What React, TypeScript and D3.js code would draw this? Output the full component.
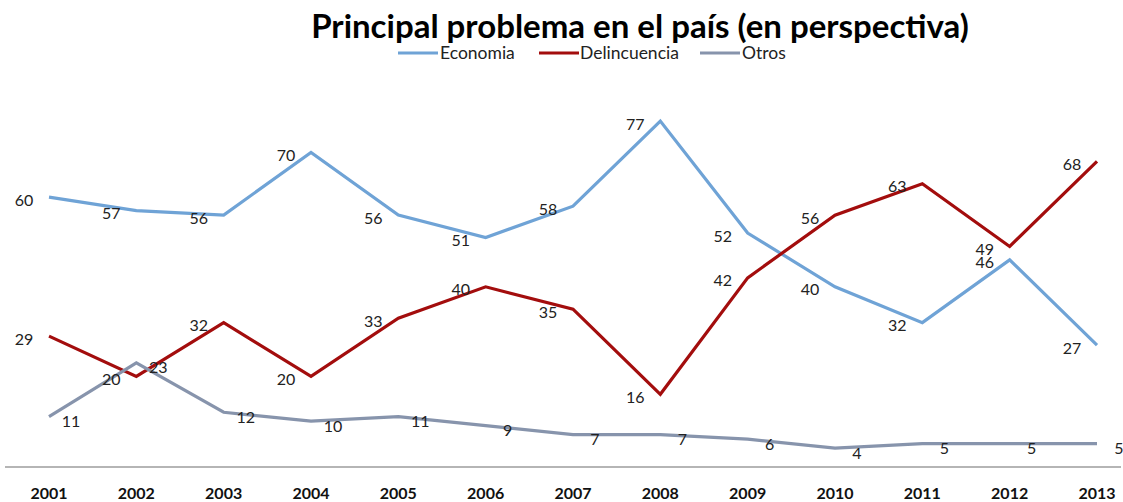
import React from 'react';
import * as d3 from 'd3';

const years = ['2001', '2002', '2003', '2004', '2005', '2006', '2007', '2008', '2009', '2010', '2011', '2012', '2013'];
const economia = [60, 57, 56, 70, 56, 51, 58, 77, 52, 40, 32, 46, 27];
const delincuencia = [29, 20, 32, 20, 33, 40, 35, 16, 42, 56, 63, 49, 68];
const otros = [11, 23, 12, 10, 11, 9, 7, 7, 6, 4, 5, 5, 5];

const seriesNames = ['Economia', 'Delincuencia', 'Otros'];
const seriesColors = ['#6FA3D6', '#A30D0D', '#8794AC'];

const W = 1123;
const H = 502;
const FONT = 'Lato, "Open Sans", sans-serif';

export default function App() {
  const x = d3.scalePoint<string>().domain(years).range([49, 1097]);
  const y = d3.scaleLinear().domain([0, 90]).range([466, 62.8]);

  const line = d3.line<number>()
    .x((_, i) => x(years[i]) as number)
    .y(d => y(d));

  const series = [economia, delincuencia, otros];

  // label placement: first two series left of point, Otros to the right
  const labelDx = [-25, -25, 22];
  const labelDy = [2, 2, 4];

  const legendLines = [[398, 438], [539, 579], [700, 740]];
  const legendText = [440, 580, 742];

  return (
    <svg width={W} height={H} style={{ position: 'absolute', left: 0, top: 0, background: '#fff' }}
      fontFamily={FONT}>
      <text x={640} y={38} textAnchor="middle" fontSize={33} fontWeight={700} fill="#000">
        Principal problema en el país (en perspectiva)
      </text>

      {seriesNames.map((name, i) => (
        <g key={name}>
          <line x1={legendLines[i][0]} x2={legendLines[i][1]} y1={53} y2={53}
            stroke={seriesColors[i]} strokeWidth={3} />
          <text x={legendText[i]} y={59} fontSize={17.5} fill="#222">{name}</text>
        </g>
      ))}

      <line x1={5} x2={1121} y1={467} y2={467} stroke="#b5b5b5" strokeWidth={2} />

      {years.map(yr => (
        <text key={yr} x={x(yr)} y={499} textAnchor="middle" fontSize={16} fontWeight={700} fill="#111">{yr}</text>
      ))}

      {series.map((vals, i) => (
        <path key={seriesNames[i]} d={line(vals) || ''} fill="none" stroke={seriesColors[i]}
          strokeWidth={3.2} strokeLinejoin="miter" />
      ))}

      {series.map((vals, i) => (
        <g key={'lab' + i}>
          {vals.map((v, j) => (
            <text key={j} x={(x(years[j]) as number) + labelDx[i]} y={y(v) + labelDy[i]}
              textAnchor="middle" dominantBaseline="central" fontSize={16} fill="#222">{v}</text>
          ))}
        </g>
      ))}
    </svg>
  );
}
